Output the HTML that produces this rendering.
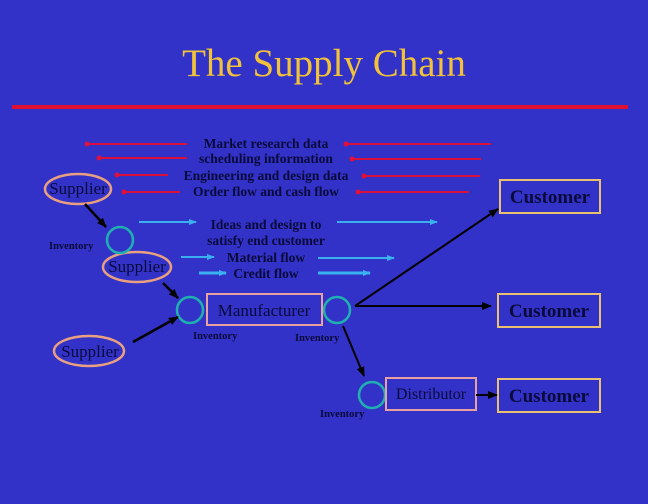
<!DOCTYPE html>
<html><head><meta charset="utf-8"><style>
html,body{margin:0;padding:0;background:#3232c8;}
svg{display:block}
text{font-family:"Liberation Serif",serif;fill:#0a0a3a;}
.b{font-weight:bold}
</style></head><body>
<svg width="648" height="504" viewBox="0 0 648 504" xmlns="http://www.w3.org/2000/svg">
<defs>
<marker id="r" markerUnits="userSpaceOnUse" markerWidth="6" markerHeight="6" refX="3" refY="3" orient="auto"><circle cx="3" cy="3" r="2.5" fill="#e0103a"/></marker>
<marker id="c" markerUnits="userSpaceOnUse" markerWidth="8" markerHeight="6" refX="7" refY="3" orient="auto"><path d="M0,0L8,3L0,6z" fill="#3ab0f0"/></marker>
<marker id="k" markerUnits="userSpaceOnUse" markerWidth="10" markerHeight="8" refX="9" refY="4" orient="auto"><path d="M0,0L10,4L0,8z" fill="#000"/></marker>
</defs>
<rect width="648" height="504" fill="#3232c8"/>
<text x="324" y="76" text-anchor="middle" font-size="39" style="fill:#f2c23a">The Supply Chain</text>
<rect x="12" y="105" width="616" height="4" fill="#e01030"/>
<g stroke="#d8103a" stroke-width="2" marker-end="url(#r)">
<line x1="187" y1="144" x2="87" y2="144"/><line x1="187" y1="158" x2="99" y2="158"/>
<line x1="168" y1="175" x2="117" y2="175"/><line x1="180" y1="192" x2="124" y2="192"/>
<line x1="491" y1="144" x2="346" y2="144"/><line x1="481" y1="159" x2="352" y2="159"/>
<line x1="480" y1="176" x2="364" y2="176"/><line x1="469" y1="192" x2="358" y2="192"/>
</g>
<g class="b" font-size="13.5" text-anchor="middle">
<text x="266" y="148" class="b">Market research data</text>
<text x="266" y="163" class="b">scheduling information</text>
<text x="266" y="180" class="b">Engineering and design data</text>
<text x="266" y="196" class="b">Order flow and cash flow</text>
<text x="266" y="229" class="b">Ideas and design to</text>
<text x="266" y="245" class="b">satisfy end customer</text>
<text x="266" y="262" class="b">Material flow</text>
<text x="266" y="278" class="b">Credit flow</text>
</g>
<g stroke="#3ab0f0" stroke-width="2" marker-end="url(#c)">
<line x1="139" y1="222" x2="196" y2="222"/><line x1="337" y1="222" x2="437" y2="222"/>
<line x1="181" y1="257" x2="214" y2="257"/><line x1="318" y1="258" x2="394" y2="258"/>
<line x1="199" y1="273" x2="226" y2="273" stroke-width="3"/><line x1="318" y1="273" x2="370" y2="273" stroke-width="3"/>
</g>
<g fill="none" stroke="#e8a080" stroke-width="2.5">
<ellipse cx="78" cy="189" rx="33" ry="15"/><ellipse cx="137" cy="267" rx="34" ry="15"/><ellipse cx="89" cy="351" rx="35" ry="15"/>
</g>
<g fill="none" stroke="#20b0b0" stroke-width="2.5">
<circle cx="120" cy="240" r="13"/><circle cx="190" cy="310" r="13"/><circle cx="337" cy="310" r="13"/><circle cx="372" cy="395" r="13"/>
</g>
<g fill="none" stroke="#e8a0a0" stroke-width="2"><rect x="207" y="294" width="115" height="31"/><rect x="386" y="378" width="90" height="32"/></g>
<g fill="none" stroke="#e8c070" stroke-width="2"><rect x="500" y="180" width="100" height="33"/><rect x="498" y="294" width="102" height="33"/><rect x="498" y="379" width="102" height="33"/></g>
<g stroke="#000" stroke-width="2.5" marker-end="url(#k)">
<line x1="85" y1="204" x2="106" y2="227"/><line x1="163" y1="283" x2="178" y2="298"/>
<line x1="133" y1="342" x2="178" y2="317"/>
<line x1="355" y1="306" x2="498" y2="209" stroke-width="2"/><line x1="355" y1="306" x2="491" y2="306" stroke-width="2"/>
<line x1="343" y1="326" x2="364" y2="376" stroke-width="2"/><line x1="476" y1="395" x2="497" y2="395" stroke-width="2"/>
</g>
<text x="78" y="194" font-size="17" text-anchor="middle">Supplier</text>
<text x="137" y="272" font-size="17" text-anchor="middle">Supplier</text>
<text x="90" y="357" font-size="17" text-anchor="middle">Supplier</text>
<text x="264" y="316" font-size="17" text-anchor="middle">Manufacturer</text>
<text x="431" y="399" font-size="16" text-anchor="middle">Distributor</text>
<g class="b" font-size="19" text-anchor="middle">
<text x="550" y="203" class="b">Customer</text><text x="549" y="317" class="b">Customer</text><text x="549" y="402" class="b">Customer</text>
</g>
<g class="b" font-size="10.5">
<text x="49" y="249" class="b">Inventory</text><text x="193" y="339" class="b">Inventory</text>
<text x="295" y="341" class="b">Inventory</text><text x="320" y="417" class="b">Inventory</text>
</g>
</svg>
</body></html>
